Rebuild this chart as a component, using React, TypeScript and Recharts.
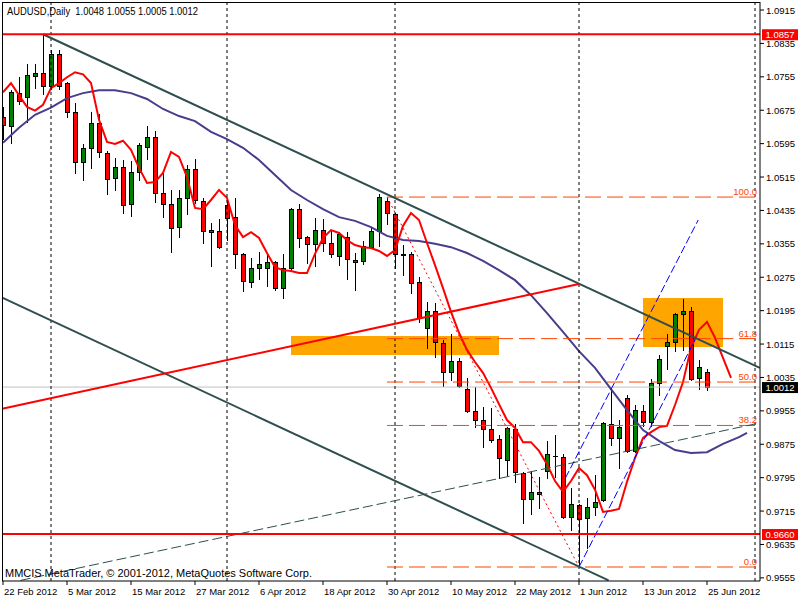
import React from 'react';
import { ComposedChart, Bar, Line, XAxis, YAxis, ReferenceLine, ReferenceArea } from 'recharts';

// daily AUDUSD bars, 22 Feb 2012 .. 25 Jun 2012
const opens = [
  1.0659, 1.0637, 1.0716, 1.0707, 1.0757, 1.0764, 1.0733, 1.0810, 1.0740, 1.0671,
  1.0551, 1.0585, 1.0644, 1.0573, 1.0513, 1.0539, 1.0450, 1.0527, 1.0587, 1.0611,
  1.0477, 1.0450, 1.0395, 1.0465, 1.0534, 1.0458, 1.0388, 1.0386, 1.0448, 1.0419,
  1.0331, 1.0263, 1.0297, 1.0297, 1.0312, 1.0249, 1.0297, 1.0438, 1.0371, 1.0355,
  1.0388, 1.0357, 1.0326, 1.0371, 1.0316, 1.0314, 1.0347, 1.0386, 1.0458, 1.0426,
  1.0331, 1.0331, 1.0263, 1.0153, 1.0194, 1.0118, 1.0048, 1.0074, 1.0007, 0.9955,
  0.9933, 0.9912, 0.9888, 0.9837, 0.9912, 0.9806, 0.9744, 0.9761, 0.9811, 0.9847,
  0.9844, 0.9701, 0.9730, 0.9698, 0.9725, 0.9742, 0.9924, 0.9890, 0.9986, 0.9859,
  0.9955, 0.9928, 1.0022, 1.0110, 1.0120, 1.0187, 1.0194, 1.0034, 1.0048,
];
const highs = [
  1.0683, 1.0723, 1.0755, 1.0786, 1.0786, 1.0857, 1.0819, 1.0819, 1.0743, 1.0692,
  1.0594, 1.0671, 1.0666, 1.0577, 1.0561, 1.0556, 1.0553, 1.0597, 1.0637, 1.0625,
  1.0525, 1.0484, 1.0484, 1.0544, 1.0558, 1.0465, 1.0405, 1.0414, 1.0465, 1.0465,
  1.0333, 1.0321, 1.0335, 1.0328, 1.0314, 1.0331, 1.0441, 1.0450, 1.0374, 1.0417,
  1.0414, 1.0388, 1.0383, 1.0383, 1.0333, 1.0362, 1.0393, 1.0474, 1.0465, 1.0429,
  1.0352, 1.0335, 1.0275, 1.0216, 1.0213, 1.0125, 1.0139, 1.0082, 1.0034, 1.0012,
  0.9964, 0.9962, 0.9897, 0.9916, 0.9924, 0.9808, 0.9811, 0.9797, 0.9883, 0.9897,
  0.9852, 0.9770, 0.9732, 0.9746, 0.9801, 0.9928, 1.0005, 0.9933, 0.9993, 0.9969,
  0.9969, 1.0031, 1.0089, 1.0139, 1.0189, 1.0223, 1.0204, 1.0077, 1.0055,
];
const lows = [
  1.0606, 1.0597, 1.0690, 1.0647, 1.0728, 1.0714, 1.0726, 1.0726, 1.0659, 1.0525,
  1.0508, 1.0537, 1.0563, 1.0474, 1.0484, 1.0429, 1.0422, 1.0508, 1.0558, 1.0455,
  1.0419, 1.0335, 1.0371, 1.0426, 1.0453, 1.0357, 1.0302, 1.0345, 1.0364, 1.0297,
  1.0242, 1.0252, 1.0271, 1.0254, 1.0244, 1.0225, 1.0292, 1.0347, 1.0309, 1.0302,
  1.0338, 1.0324, 1.0304, 1.0271, 1.0244, 1.0307, 1.0345, 1.0350, 1.0403, 1.0297,
  1.0280, 1.0237, 1.0168, 1.0106, 1.0084, 1.0015, 1.0029, 1.0013, 0.9953, 0.9916,
  0.9868, 0.9880, 0.9794, 0.9801, 0.9785, 0.9686, 0.9708, 0.9722, 0.9794, 0.9797,
  0.9699, 0.9670, 0.9581, 0.9627, 0.9706, 0.9740, 0.9873, 0.9818, 0.9857, 0.9857,
  0.9919, 0.9919, 0.9993, 1.0055, 1.0098, 1.0101, 1.0029, 1.0007, 1.0005,
];
const closes = [
  1.0640, 1.0719, 1.0697, 1.0759, 1.0764, 1.0733, 1.0810, 1.0733, 1.0671, 1.0551,
  1.0585, 1.0644, 1.0575, 1.0510, 1.0539, 1.0448, 1.0527, 1.0592, 1.0611, 1.0477,
  1.0450, 1.0393, 1.0465, 1.0534, 1.0460, 1.0386, 1.0383, 1.0347, 1.0417, 1.0331,
  1.0266, 1.0297, 1.0307, 1.0312, 1.0249, 1.0297, 1.0438, 1.0369, 1.0355, 1.0388,
  1.0357, 1.0331, 1.0379, 1.0319, 1.0312, 1.0350, 1.0386, 1.0467, 1.0429, 1.0331,
  1.0328, 1.0261, 1.0177, 1.0194, 1.0120, 1.0048, 1.0074, 1.0015, 0.9955, 0.9933,
  0.9912, 0.9885, 0.9842, 0.9914, 0.9809, 0.9744, 0.9761, 0.9756, 0.9852, 0.9846,
  0.9701, 0.9732, 0.9696, 0.9725, 0.9737, 0.9926, 0.9890, 0.9916, 0.9859, 0.9957,
  0.9928, 1.0022, 1.0079, 1.0120, 1.0187, 1.0194, 1.0031, 1.0060, 1.0012,
];

// fast MA (red), shifted a few bars forward
const fastMA = [
  1.0718, 1.0740, 1.0711, 1.0683, 1.0674, 1.0688, 1.0728, 1.0740, 1.0754, 1.0766,
  1.0761, 1.0740, 1.0652, 1.0599, 1.0594, 1.0602, 1.0580, 1.0537, 1.0501, 1.0503,
  1.0525, 1.0575, 1.0563, 1.0515, 1.0441, 1.0438, 1.0460, 1.0484, 1.0465, 1.0400,
  1.0371, 1.0383, 1.0369, 1.0333, 1.0299, 1.0292, 1.0290, 1.0285, 1.0285, 1.0331,
  1.0369, 1.0388, 1.0381, 1.0364, 1.0352, 1.0347, 1.0345, 1.0338, 1.0326, 1.0340,
  1.0398, 1.0429, 1.0412, 1.0357, 1.0304, 1.0249, 1.0192, 1.0142, 1.0101, 1.0072,
  1.0046, 1.0010, 0.9971, 0.9933, 0.9914, 0.9880, 0.9880, 0.9859, 0.9827, 0.9787,
  0.9761, 0.9787, 0.9818, 0.9801, 0.9766, 0.9713, 0.9716, 0.9720, 0.9785, 0.9842,
  0.9890, 0.9904, 0.9916, 0.9919, 0.9969, 1.0024, 1.0106, 1.0149, 1.0168, 1.0130,
  1.0082, 1.0034,
];

// slow MA (slate blue), read every second bar
const slowIdx = [
  0, 2, 4, 6, 8, 10, 12, 14, 16, 18, 20, 22, 24, 26, 28, 30, 32, 34, 36, 38, 40, 42, 44, 46,
  48, 50, 52, 54, 56, 58, 60, 62, 64, 66, 68, 70, 72, 74, 76, 78, 80, 82, 84, 86, 88, 90, 92, 93,
];
const slowMA = [
  1.0597, 1.0633, 1.0664, 1.0681, 1.0704, 1.0716, 1.0723, 1.0723, 1.0716, 1.0702, 1.0678, 1.0661,
  1.0649, 1.0623, 1.0606, 1.0585, 1.0556, 1.0520, 1.0484, 1.0460, 1.0438, 1.0419, 1.0410, 1.0395,
  1.0374, 1.0364, 1.0362, 1.0355, 1.0347, 1.0333, 1.0314, 1.0292, 1.0268, 1.0232, 1.0189, 1.0144,
  1.0098, 1.0058, 1.0007, 0.9957, 0.9909, 0.9883, 0.9861, 0.9854, 0.9856, 0.9876, 0.9892, 0.9902,
];

const dateTicks = [0, 8, 16, 24, 32, 40, 48, 56, 64, 72, 80, 88];
const dateLabels = [
  '22 Feb 2012', '5 Mar 2012', '15 Mar 2012', '27 Mar 2012', '6 Apr 2012', '18 Apr 2012',
  '30 Apr 2012', '10 May 2012', '22 May 2012', '1 Jun 2012', '13 Jun 2012', '25 Jun 2012',
];
const priceTicks = [
  0.9555, 0.9635, 0.9715, 0.9795, 0.9875, 0.9955, 1.0035, 1.0115, 1.0195,
  1.0275, 1.0355, 1.0435, 1.0515, 1.0595, 1.0675, 1.0755, 1.0835, 1.0915,
];
const monthStarts = [6, 28, 49, 72, 94];

// drawn objects (bar index, price)
const channelTop = [{ i: 5, p: 1.0857 }, { i: 94.6, p: 1.0058 }];
const channelBottom = [{ i: -0.1, p: 1.0226 }, { i: 75.7, p: 0.9549 }];
const redTrend = [{ i: -0.1, p: 0.9960 }, { i: 72, p: 1.0259 }];
const thinTrend = [{ i: 2.2, p: 0.9549 }, { i: 94.6, p: 0.9926 }];
const blueUpper = [{ i: 70.3, p: 0.9794 }, { i: 86.9, p: 1.0412 }];
const blueLower = [{ i: 72, p: 0.9581 }, { i: 86.5, p: 1.0125 }];
const fibLevels = [
  { p: 1.0467, label: '100.0' },
  { p: 1.0128, label: '61.8' },
  { p: 1.0024, label: '50.0' },
  { p: 0.9920, label: '38.2' },
  { p: 0.9581, label: '0.0' },
];
const fibDiag = [{ i: 48, p: 1.0467 }, { i: 72, p: 0.9581 }];
const boxes = [
  { i1: 36, i2: 62, p1: 1.0089, p2: 1.0134 },
  { i1: 80, i2: 90, p1: 1.0108, p2: 1.0225 },
];
const marks = [
  { p: 1.0857, label: '1.0857', color: '#ff0000', bg: '#ff0000' },
  { p: 0.9660, label: '0.9660', color: '#ff0000', bg: '#ff0000' },
];
const bid = 1.0012;

const FONT = "'Liberation Sans', Arial, sans-serif";
const FIB = '#ff4500';
const DARK = '#2f4f4f';

const candles = opens.map((o, k) => ({ i: k, o, h: highs[k], l: lows[k], c: closes[k] }));
const fastData = fastMA.map((p, k) => ({ i: k, p }));
const slowData = slowIdx.map((i, k) => ({ i, p: slowMA[k] }));

const Candle = (props: any) => {
  const { x, y, width, height, payload } = props;
  if (x == null || !payload) return null;
  const c = Math.round(x + width / 2);
  const top = Math.min(y, y + height);
  const bot = Math.max(y, y + height);
  const span = payload.h - payload.l || 1;
  const py = (v: number) => top + ((payload.h - v) / span) * (bot - top);
  const yo = py(payload.o);
  const yc = py(payload.c);
  const bt = Math.round(Math.min(yo, yc));
  const bb = Math.round(Math.max(yo, yc));
  return (
    <g shapeRendering="crispEdges">
      <line x1={c + 0.5} x2={c + 0.5} y1={Math.round(top)} y2={Math.round(bot) + 1} stroke="#000" />
      {bb - bt < 1 ? (
        <line x1={c - 2} x2={c + 3} y1={bt + 0.5} y2={bt + 0.5} stroke="#000" />
      ) : (
        <rect
          x={c - 1.5}
          y={bt + 0.5}
          width={4}
          height={bb - bt}
          fill={payload.c > payload.o ? '#008000' : '#ff0000'}
          stroke="#000"
        />
      )}
    </g>
  );
};

const PriceTick = ({ x, y, payload }: any) => (
  <text x={x} y={y + 3.5} textAnchor="start" fontSize={9.5} fontFamily={FONT} fill="#000">
    {Number(payload.value).toFixed(4)}
  </text>
);

const DateTick = ({ x, y, payload }: any) => (
  <text x={x + 1} y={y + 8} textAnchor="start" fontSize={9.5} fontFamily={FONT} fill="#000">
    {dateLabels[dateTicks.indexOf(payload.value)]}
  </text>
);

const axisBox = (label: string, bg: string) => (props: any) => {
  const vb = props.viewBox;
  if (!vb) return null;
  const right = vb.x + vb.width;
  return (
    <g>
      <rect x={right + 2} y={vb.y - 5} width={36} height={11} fill={bg} />
      <text x={right + 20} y={vb.y + 4} textAnchor="middle" fontSize={9.5} fontFamily={FONT} fill="#fff">
        {label}
      </text>
    </g>
  );
};

const fibLabel = (label: string) => (props: any) => {
  const vb = props.viewBox;
  if (!vb) return null;
  return (
    <text x={vb.x + vb.width - 3} y={vb.y - 2} textAnchor="end" fontSize={9.5} fontFamily={FONT} fill={FIB}>
      {label}
    </text>
  );
};

const seg = (pts: { i: number; p: number }[]) => pts.map((d) => ({ x: d.i, y: d.p })) as any;

export default function App() {
  return (
    <div style={{ position: 'absolute', left: 0, top: 0, width: 800, height: 600, background: '#fff' }}>
      <ComposedChart
        width={800}
        height={600}
        data={candles}
        margin={{ top: 2, right: 0, bottom: 0, left: 2 }}
      >
        <XAxis
          dataKey="i"
          type="number"
          domain={[-0.125, 94.625]}
          allowDataOverflow
          ticks={dateTicks}
          interval={0}
          height={19}
          tickSize={4}
          tick={<DateTick />}
          stroke="#000"
        />
        <YAxis
          orientation="right"
          type="number"
          domain={[0.95475, 1.09342]}
          allowDataOverflow
          ticks={priceTicks}
          interval={0}
          width={40}
          tickSize={4}
          tick={<PriceTick />}
          stroke="#000"
        />
        {boxes.map((b, k) => (
          <ReferenceArea
            key={'box' + k}
            x1={b.i1}
            x2={b.i2}
            y1={b.p1}
            y2={b.p2}
            fill="#ffa500"
            fillOpacity={1}
            stroke="none"
            ifOverflow="visible"
          />
        ))}
        <ReferenceLine y={bid} stroke="#c0c0c0" strokeWidth={1} label={{ content: axisBox('1.0012', '#000') }} />
        <Bar dataKey={(d: any) => [d.l, d.h]} barSize={6} shape={Candle} isAnimationActive={false} />
        <Line data={slowData} dataKey="p" type="linear" stroke="#483d8b" strokeWidth={2} dot={false} isAnimationActive={false} />
        <Line data={fastData} dataKey="p" type="linear" stroke="#ff0000" strokeWidth={2} dot={false} isAnimationActive={false} />
        {monthStarts.map((m) => (
          <ReferenceLine key={'m' + m} x={m} stroke="#000" strokeDasharray="3 3" />
        ))}
        {fibLevels.map((f) => (
          <ReferenceLine
            key={'fib' + f.label}
            segment={[{ x: 48, y: f.p }, { x: 94.625, y: f.p }]}
            stroke={FIB}
            strokeDasharray="16 6"
            ifOverflow="visible"
            label={{ content: fibLabel(f.label) }}
          />
        ))}
        <ReferenceLine segment={seg(fibDiag)} stroke="#ff0000" strokeDasharray="2 3" ifOverflow="visible" />
        <ReferenceLine segment={seg(thinTrend)} stroke={DARK} strokeDasharray="10 4" ifOverflow="visible" />
        <ReferenceLine segment={seg(blueUpper)} stroke="#0000ff" strokeDasharray="8 3" ifOverflow="visible" />
        <ReferenceLine segment={seg(blueLower)} stroke="#0000ff" strokeDasharray="8 3" ifOverflow="visible" />
        <ReferenceLine segment={seg(channelTop)} stroke={DARK} strokeWidth={2} ifOverflow="visible" />
        <ReferenceLine segment={seg(channelBottom)} stroke={DARK} strokeWidth={2} ifOverflow="visible" />
        <ReferenceLine segment={seg(redTrend)} stroke="#ff0000" strokeWidth={2} ifOverflow="visible" />
        {marks.map((m) => (
          <ReferenceLine
            key={'mk' + m.label}
            y={m.p}
            stroke={m.color}
            strokeWidth={2}
            label={{ content: axisBox(m.label, m.bg) }}
          />
        ))}
      </ComposedChart>
      <svg width={800} height={600} style={{ position: 'absolute', left: 0, top: 0, pointerEvents: 'none' }}>
        <line x1={2.5} x2={2.5} y1={2} y2={581} stroke="#000" />
        <line x1={2} x2={760} y1={2.5} y2={2.5} stroke="#000" />
        <text x={7} y={15} fontSize={10.5} fontFamily={FONT} fill="#000" xmlSpace="preserve"
          textLength={191} lengthAdjust="spacingAndGlyphs">
          AUDUSD,Daily  1.0048 1.0055 1.0005 1.0012
        </text>
        <text x={5} y={577} fontSize={10.5} fontFamily={FONT} fill="#000"
          textLength={307} lengthAdjust="spacingAndGlyphs">
          MMCIS MetaTrader, © 2001-2012, MetaQuotes Software Corp.
        </text>
      </svg>
    </div>
  );
}
